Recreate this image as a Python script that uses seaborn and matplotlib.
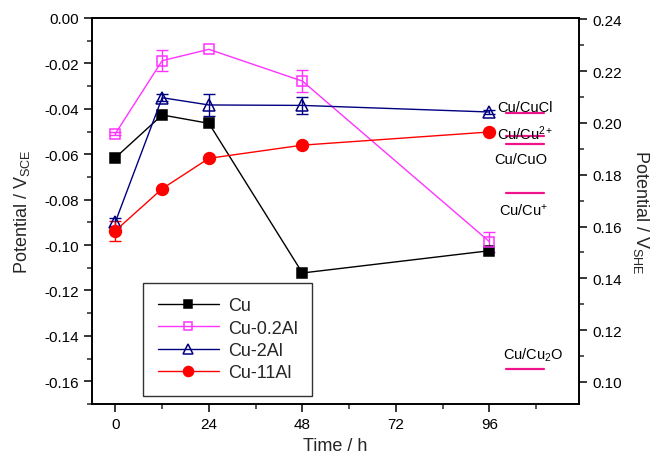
import numpy as np
import pandas as pd
import matplotlib
matplotlib.use("Agg")
import matplotlib.pyplot as plt
from matplotlib.ticker import MultipleLocator
import seaborn as sns

# Open-circuit potential vs immersion time
time_h = [0, 12, 24, 48, 96]
cu = [-0.0615, -0.0427, -0.0464, -0.1123, -0.1025]
cu_02al = [-0.0509, -0.0188, -0.0138, -0.0278, -0.0985]
cu_2al = [-0.0898, -0.0351, -0.0383, -0.0385, -0.0414]
cu_11al = [-0.0937, -0.0752, -0.0618, -0.0560, -0.0502]

cu_err = [0.0, 0.0, 0.0, 0.0, 0.0]
cu_02al_err = [0.0008, 0.0045, 0.0, 0.0050, 0.0044]
cu_2al_err = [0.0018, 0.0015, 0.0050, 0.0037, 0.0010]
cu_11al_err = [0.0044, 0.0, 0.0, 0.0, 0.0]

series_names = ["Cu", "Cu-0.2Al", "Cu-2Al", "Cu-11Al"]

# Equilibrium potentials (V vs SHE)
ref_labels = ["Cu/CuCl", "Cu/Cu$^{2+}$", "Cu/CuO", "Cu/Cu$^{+}$", "Cu/Cu$_{2}$O"]
ref_values = [0.2038, 0.1949, 0.1917, 0.1731, 0.1050]

sns.set_theme(style="ticks")
plt.rcParams["font.family"] = ["Liberation Sans", "DejaVu Sans"]
plt.rcParams["mathtext.fontset"] = "custom"
plt.rcParams["mathtext.rm"] = "Liberation Sans"
plt.rcParams["mathtext.it"] = "Liberation Sans"

fig = plt.figure(figsize=(6.55, 4.6), dpi=100)
ax = fig.add_axes([0.1405, 0.1196, 0.7435, 0.8391])

styles = {
    "Cu": dict(color="black", marker="s", mfc="black", ms=7),
    "Cu-0.2Al": dict(color="#FF33FF", marker="s", mfc="none", ms=7.5),
    "Cu-2Al": dict(color="#000080", marker="^", mfc="none", ms=8.5),
    "Cu-11Al": dict(color="#FF0000", marker="o", mfc="#FF0000", ms=8.5),
}
values = {"Cu": cu, "Cu-0.2Al": cu_02al, "Cu-2Al": cu_2al, "Cu-11Al": cu_11al}
errors = {"Cu": cu_err, "Cu-0.2Al": cu_02al_err, "Cu-2Al": cu_2al_err, "Cu-11Al": cu_11al_err}

for name in series_names:
    st = styles[name]
    df = pd.DataFrame({"t": time_h, "E": values[name]})
    sns.lineplot(data=df, x="t", y="E", ax=ax, color=st["color"], lw=1.0,
                 marker=st["marker"], markersize=st["ms"],
                 markerfacecolor=st["mfc"], markeredgecolor=st["color"],
                 markeredgewidth=1.1, label=name, legend=False, zorder=3)
    err = np.array(errors[name])
    mask = err > 0
    if mask.any():
        ax.errorbar(np.array(time_h)[mask], np.array(values[name])[mask],
                    yerr=err[mask], fmt="none", ecolor=st["color"],
                    elinewidth=1.0, capsize=4, capthick=1.0, zorder=2)

ax.set_xlim(-6, 119)
ax.set_ylim(-0.17, 0.0)
ax.xaxis.set_major_locator(MultipleLocator(24))
ax.xaxis.set_minor_locator(MultipleLocator(12))
ax.yaxis.set_major_locator(MultipleLocator(0.02))
ax.yaxis.set_minor_locator(MultipleLocator(0.01))
ax.yaxis.set_major_formatter(matplotlib.ticker.FormatStrFormatter("%.2f"))
ax.tick_params(axis="both", which="major", direction="out", length=6, width=1.1,
               labelsize=11, colors="black")
ax.tick_params(axis="both", which="minor", direction="out", length=3.5, width=1.1)
ax.tick_params(axis="x", top=False)
ax.set_xlabel("Time / h", fontsize=13, labelpad=4)
ax.set_ylabel("Potential / V$_{\\mathrm{SCE}}$", fontsize=13, labelpad=9)
for sp in ax.spines.values():
    sp.set_color("black")
    sp.set_linewidth(1.2)

ax2 = ax.twinx()
ax2.set_ylim(0.0915, 0.2405)
ax2.yaxis.set_major_locator(MultipleLocator(0.02))
ax2.yaxis.set_minor_locator(MultipleLocator(0.01))
ax2.yaxis.set_major_formatter(matplotlib.ticker.FormatStrFormatter("%.2f"))
ax2.tick_params(axis="y", which="major", direction="out", length=6, width=1.1,
                labelsize=11, colors="black")
ax2.tick_params(axis="y", which="minor", direction="out", length=3.5, width=1.1)
ax2.set_ylabel("Potential / V$_{\\mathrm{SHE}}$", fontsize=13, rotation=270, labelpad=21)
for sp in ax2.spines.values():
    sp.set_color("black")
    sp.set_linewidth(1.2)

# Equilibrium potential markers with labels
ref_x = (100.3, 110.0)
ref_text = [
    (105.2, 0.0025),
    (105.3, 0.0013),
    (104.0, -0.0058),
    (104.8, -0.0064),
    (107.2, 0.0057),
]
for lab, val, (tx, dy) in zip(ref_labels, ref_values, ref_text):
    ax2.plot(ref_x, [val, val], color="#F0148C", lw=1.6, zorder=2)
    ax2.text(tx, val + dy, lab, fontsize=10.5, ha="center", va="center", color="black")

handles, labels = ax.get_legend_handles_labels()
leg = ax.legend(handles, labels, loc="lower left", bbox_to_anchor=(0.105, 0.021),
                borderaxespad=0, fontsize=13, frameon=True, fancybox=False,
                edgecolor="black", handlelength=3.4, borderpad=0.8,
                labelspacing=0.3, handletextpad=0.5, markerscale=0.85)
leg.get_frame().set_linewidth(1.0)
leg.set_zorder(5)

fig.savefig("out.png", dpi=100)
